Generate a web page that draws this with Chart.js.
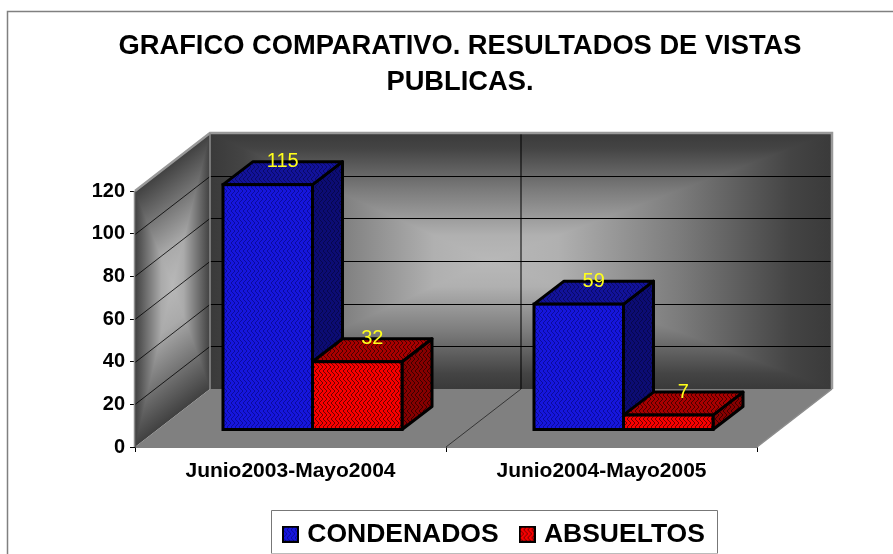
<!DOCTYPE html>
<html><head><meta charset="utf-8">
<style>html,body{margin:0;padding:0;background:#fff;overflow:hidden}canvas{display:block}</style>
<script src="https://cdn.jsdelivr.net/npm/chart.js@4"></script>
</head><body><canvas id="c" width="893" height="554"></canvas>
<script>
const titleLines = ['GRAFICO COMPARATIVO. RESULTADOS DE VISTAS', 'PUBLICAS.'];
const categories = ['Junio2003-Mayo2004', 'Junio2004-Mayo2005'];
const condenados = [115, 59];
const absueltos = [32, 7];
const seriesNames = ['CONDENADOS', 'ABSUELTOS'];
const yTicks = [0, 20, 40, 60, 80, 100, 120];

const FONT = '"Liberation Sans", Arial, sans-serif';
Chart.defaults.font.family = FONT;
Chart.defaults.color = '#000';

const WALL = {dx: 75, dy: -58};
const SHIFT = {dx: 22, dy: -17};
const DEPTH = {dx: 30, dy: -23};

function weave(base, dark) {
  const t = document.createElement('canvas'); t.width = t.height = 8;
  const g = t.getContext('2d');
  g.fillStyle = base; g.fillRect(0, 0, 8, 8);
  g.fillStyle = dark;
  for (let y = 0; y < 8; y++) for (let x = 0; x < 8; x++) {
    const k = y % 8 < 4 ? y % 8 : 7 - y % 8;
    if ((x + k) % 4 === 0) g.fillRect(x, y, 1, 1);
  }
  return document.createElement('canvas').getContext('2d').createPattern(t, 'repeat');
}
const PAT = {
  blue: {front: weave('#1616dc', '#0b0b9c'), top: weave('#12129a', '#0a0a66'), side: weave('#0c0c74', '#07074e')},
  red: {front: weave('#f80000', '#6e0000'), top: weave('#a80000', '#4a0000'), side: weave('#860000', '#3a0000')}
};
function swatch(p) {
  const t = document.createElement('canvas'); t.width = t.height = 17;
  const g = t.getContext('2d');
  g.fillStyle = '#000'; g.fillRect(0, 0, 17, 17);
  g.fillStyle = p; g.fillRect(2, 2, 13, 13);
  return t;
}

function rectGrad(ctx, x, y, w, h, cx, cy, stops) {
  const lin = (x0, y0, x1, y1) => {
    const g = ctx.createLinearGradient(x0, y0, x1, y1);
    stops.forEach(s => g.addColorStop(s[0], s[1]));
    return g;
  };
  ctx.fillStyle = lin(cx, y, cx, cy); ctx.fillRect(x, y, w, cy - y + 1);
  ctx.fillStyle = lin(cx, y + h, cx, cy); ctx.fillRect(x, cy, w, y + h - cy);
  [[x, cx], [x + w, cx]].forEach(([ex]) => {
    ctx.save();
    ctx.beginPath(); ctx.moveTo(ex, y); ctx.lineTo(ex, y + h); ctx.lineTo(cx, cy); ctx.closePath(); ctx.clip();
    ctx.fillStyle = lin(ex, cy, cx, cy); ctx.fillRect(x, y, w, h);
    ctx.restore();
  });
}
function poly(ctx, pts, fill, stroke, lw) {
  ctx.beginPath();
  pts.forEach((p, i) => i ? ctx.lineTo(p[0], p[1]) : ctx.moveTo(p[0], p[1]));
  ctx.closePath();
  if (fill) { ctx.fillStyle = fill; ctx.fill(); }
  if (stroke) { ctx.strokeStyle = stroke; ctx.lineWidth = lw; ctx.lineJoin = 'round'; ctx.stroke(); }
}
const WALL_STOPS = [[0, '#3a3a3a'], [0.12, '#444'], [0.45, '#7c7c7c'], [0.8, '#b0b0b0'], [1, '#b8b8b8']];

const scene = {
  id: 'scene',
  afterLayout(chart) {
    chart.titleBlock.left = 27; chart.titleBlock.right = 893;
    const l = chart.legend;
    l.left = 262; l.right = 893; l.top = 496; l.bottom = 554;
  },
  beforeDraw(chart) {
    const c = chart.ctx;
    c.save();
    c.strokeStyle = '#808080'; c.lineWidth = 1.5;
    c.beginPath(); c.moveTo(7.5, 560); c.lineTo(7.5, 11.5); c.lineTo(900, 11.5); c.stroke();
    c.fillStyle = '#fff'; c.fillRect(271, 510, 446, 43);
    c.lineWidth = 1;
    c.strokeStyle = '#777'; c.beginPath(); c.moveTo(271.5, 553); c.lineTo(271.5, 510.5); c.lineTo(717.5, 510.5); c.lineTo(717.5, 553); c.stroke();
    c.strokeStyle = '#bbb'; c.beginPath(); c.moveTo(271, 553.5); c.lineTo(718, 553.5); c.stroke();
    c.restore();
  },
  beforeDatasetsDraw(chart) {
    const c = chart.ctx, A = chart.chartArea, y = chart.scales.y, x = chart.scales.x;
    const L = A.left, R = A.right, T = A.top, B = A.bottom;
    const wx = WALL.dx, wy = WALL.dy;
    c.save();
    // back wall
    rectGrad(c, L + wx, T + wy, R - L, B - T, L + wx + (R - L) * 0.45, T + wy + (B - T) * 0.5, WALL_STOPS);
    // side wall
    c.save();
    c.transform(1, wy / wx, 0, 1, L, T);
    rectGrad(c, 0, 0, wx, B - T, wx * 0.5, (B - T) * 0.48, [[0, '#404040'], [0.3, '#6e6e6e'], [0.7, '#aaa'], [1, '#b8b8b8']]);
    c.restore();
    // floor
    poly(c, [[L, B], [L + wx, B + wy], [R + wx, B + wy], [R, B]], '#808080');
    // back and side gridlines
    c.lineWidth = 1; c.strokeStyle = '#000';
    yTicks.forEach(v => {
      if (v === 0 || v === 120) return;
      const p = Math.round(y.getPixelForValue(v)) + 0.5;
      c.beginPath(); c.moveTo(L + wx, p + wy); c.lineTo(R + wx, p + wy); c.stroke();
      c.lineWidth = 0.8;
      c.beginPath(); c.moveTo(L, p); c.lineTo(L + wx, p + wy); c.stroke();
      c.lineWidth = 1;
    });
    // category divider on back wall and floor
    const mid = (x.getPixelForValue(0) + x.getPixelForValue(1)) / 2;
    c.beginPath(); c.moveTo(mid + wx, T + wy); c.lineTo(mid + wx, B + wy); c.stroke();
    c.lineWidth = 0.8; c.strokeStyle = '#222';
    c.beginPath(); c.moveTo(mid, B); c.lineTo(mid + wx, B + wy); c.stroke();
    // wall frame
    c.strokeStyle = '#999'; c.lineWidth = 2.5;
    c.beginPath(); c.moveTo(L, T); c.lineTo(L + wx, T + wy); c.lineTo(R + wx, T + wy); c.lineTo(R + wx, B + wy); c.stroke();
    c.lineWidth = 1.5; c.strokeStyle = '#8c8c8c';
    c.beginPath(); c.moveTo(L + wx, T + wy); c.lineTo(L + wx, B + wy); c.stroke();
    c.beginPath(); c.moveTo(R + wx, B + wy); c.lineTo(R, B); c.stroke();
    c.beginPath(); c.moveTo(L - 0.5, T); c.lineTo(L - 0.5, B); c.stroke();
    c.restore();
    // bars: shift into the depth, draw their top and side faces
    c.save();
    c.translate(SHIFT.dx, SHIFT.dy);
    ['blue', 'red'].forEach((k, i) => {
      chart.getDatasetMeta(i).data.forEach(b => {
        const x0 = b.x - b.width / 2, x1 = b.x + b.width / 2, t = b.y, bs = b.base;
        const d = DEPTH;
        poly(c, [[x1, t], [x1 + d.dx, t + d.dy], [x1 + d.dx, bs + d.dy], [x1, bs]], PAT[k].side, '#000', 3);
        poly(c, [[x0, t], [x1, t], [x1 + d.dx, t + d.dy], [x0 + d.dx, t + d.dy]], PAT[k].top, '#000', 3);
      });
    });
    c.restore();
    c.save();
    c.translate(SHIFT.dx, SHIFT.dy);
  },
  afterDatasetsDraw(chart) {
    const c = chart.ctx;
    [0, 1].forEach(i => chart.getDatasetMeta(i).data.forEach(b => {
      c.strokeStyle = '#000'; c.lineWidth = 3; c.lineJoin = 'miter';
      c.strokeRect(b.x - b.width / 2, b.y, b.width, b.base - b.y);
    }));
    c.restore();
    c.save();
    c.fillStyle = '#ffff1a';
    c.font = '20px ' + FONT;
    c.textAlign = 'center'; c.textBaseline = 'middle';
    [condenados, absueltos].forEach((vals, i) => {
      chart.getDatasetMeta(i).data.forEach((b, j) => {
        c.fillText(String(vals[j]), b.x + SHIFT.dx + DEPTH.dx / 2, b.y + SHIFT.dy + DEPTH.dy);
      });
    });
    c.restore();
  }
};

new Chart(document.getElementById('c'), {
  type: 'bar',
  data: {
    labels: categories,
    datasets: [
      {label: seriesNames[0], data: condenados, backgroundColor: PAT.blue.front, borderWidth: 0, clip: false},
      {label: seriesNames[1], data: absueltos, backgroundColor: PAT.red.front, borderWidth: 0, clip: false}
    ]
  },
  options: {
    responsive: false,
    animation: false,
    devicePixelRatio: 1,
    events: [],
    layout: {padding: {left: 0, right: 136, top: 0, bottom: 0}},
    datasets: {bar: {barPercentage: 1, categoryPercentage: 0.5756}},
    plugins: {
      tooltip: {enabled: false},
      title: {
        display: true, text: titleLines, color: '#000',
        font: {size: 27.3, weight: 'bold', lineHeight: 36 / 27.3},
        padding: {top: 28, bottom: 91}
      },
      legend: {
        display: true, position: 'bottom', align: 'start', maxHeight: 47,
        labels: {
          color: '#000',
          font: {size: 26.5, weight: 'bold', lineHeight: 1},
          usePointStyle: true, pointStyleWidth: 7, padding: 25,
          generateLabels: () => [
            {text: seriesNames[0], pointStyle: swatch(PAT.blue.front), fillStyle: '#1616dc', strokeStyle: '#000', lineWidth: 0, datasetIndex: 0, hidden: false},
            {text: seriesNames[1], pointStyle: swatch(PAT.red.front), fillStyle: '#f80000', strokeStyle: '#000', lineWidth: 0, datasetIndex: 1, hidden: false}
          ]
        }
      }
    },
    scales: {
      x: {
        afterFit(s) { s.height = 60; },
        grid: {drawOnChartArea: false, drawTicks: true, tickLength: 5, color: '#000', lineWidth: 1},
        border: {display: true, color: '#000', width: 1.5},
        ticks: {color: '#000', padding: 7, font: {size: 21, weight: 'bold'}, maxRotation: 0, autoSkip: false}
      },
      y: {
        min: 0, max: 120,
        afterFit(s) { s.width = 135; },
        afterBuildTicks(s) { s.ticks = yTicks.map(v => ({value: v})); },
        grid: {drawOnChartArea: false, drawTicks: true, tickLength: 5, color: '#000', lineWidth: 1},
        border: {display: false},
        ticks: {color: '#000', padding: 5, font: {size: 20, weight: 'bold'}}
      }
    }
  },
  plugins: [scene]
});
</script></body></html>
